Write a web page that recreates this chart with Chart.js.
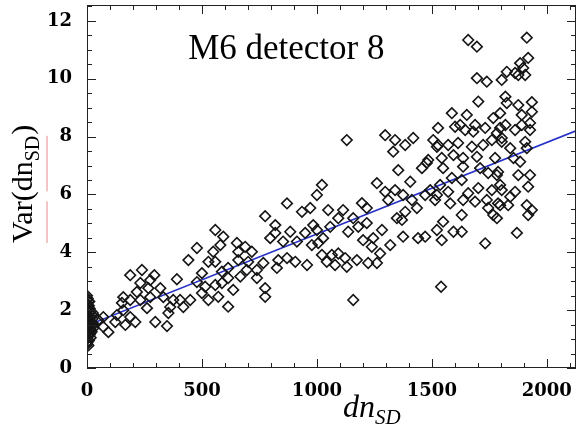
<!DOCTYPE html>
<html lang="en">
<head>
    <meta charset="UTF-8">
    <title>M6 detector 8</title>
    <style>
        body {
            margin: 0;
            background-color: #fff;
        }
        #wrap {
            width: 576px;
            height: 429px;
        }
    </style>
    <script src="https://cdn.jsdelivr.net/npm/chart.js"></script>
</head>
<body>
    <div id="wrap">
        <canvas id="varChart" width="576" height="429"></canvas>
    </div>

    <script>
        const xTicks = [0, 500, 1000, 1500, 2000];
        const yTicks = [0, 2, 4, 6, 8, 10, 12];

        // points piled up at dn ~ 0
        const nearZero = [
            [0, 2.5], [3, 2.4], [6, 2.3], [2, 2.2], [8, 2.15], [12, 2.05], [4, 2.0], [16, 1.95],
            [9, 1.9], [20, 1.85], [1, 1.8], [14, 1.75], [24, 1.7], [5, 1.65], [18, 1.6], [26, 1.55],
            [10, 1.5], [22, 1.45], [3, 1.4], [15, 1.35], [28, 1.38], [7, 1.3], [20, 1.25], [2, 1.2],
            [12, 1.15], [5, 1.1], [16, 1.05], [0, 1.0], [8, 0.95], [3, 0.9], [1, 0.82], [6, 0.78],
            [0, 1.6], [0, 2.0], [4, 1.55], [25, 1.9], [10, 2.3], [0, 2.35], [14, 1.2], [0, 1.3]
        ];

        // dn_SD, Var(dn_SD)
        const samples = [
            [188, 3.21], [239, 3.39], [293, 3.21], [441, 3.73], [391, 3.07], [232, 2.94], [275, 3.04], [267, 2.76],
            [319, 2.76], [217, 2.63], [158, 2.45], [152, 2.25], [188, 2.35], [232, 2.35], [275, 2.45], [332, 2.45],
            [375, 2.35], [405, 2.35], [449, 2.35], [419, 2.11], [362, 2.11], [261, 2.07], [158, 2.0], [188, 1.76],
            [130, 1.83], [354, 1.9], [297, 1.59], [348, 1.45], [210, 1.59], [167, 1.49], [93, 1.24], [71, 1.42],
            [49, 1.66], [71, 1.76], [123, 1.59], [478, 2.97],
            [870, 5.69], [935, 5.4], [971, 5.53], [775, 5.25], [819, 4.94], [984, 4.94], [558, 4.77], [593, 4.54],
            [819, 4.67], [884, 4.71], [949, 4.67], [652, 4.32], [688, 4.19], [797, 4.49], [853, 4.37], [913, 4.37],
            [978, 4.25], [478, 4.15], [580, 4.25], [549, 4.02], [658, 4.02], [717, 4.02], [528, 3.67], [558, 3.67],
            [658, 3.73], [701, 3.67], [767, 3.63], [832, 3.73], [870, 3.8], [906, 3.67], [957, 3.56], [826, 3.46],
            [739, 3.39], [695, 3.39], [614, 3.46], [587, 3.33], [500, 3.28], [614, 3.11], [667, 3.16], [739, 3.11],
            [514, 2.81], [558, 2.87], [587, 2.94], [636, 2.7], [775, 2.76], [775, 2.46], [571, 2.46], [614, 2.12],
            [500, 2.59], [528, 2.35],
            [1130, 7.88], [1297, 8.05], [1340, 7.88], [1384, 7.71], [1419, 7.95], [1332, 7.48], [1506, 7.88], [1522, 7.65],
            [1484, 7.19], [1457, 6.91], [1354, 6.84], [1406, 6.44], [1261, 6.39], [1022, 6.33], [1000, 5.98], [1297, 6.09],
            [1340, 6.15], [1310, 5.81], [1375, 5.98], [1413, 5.81], [1471, 5.98], [1493, 6.15], [1514, 5.81], [1435, 5.53],
            [1384, 5.4], [1348, 5.18], [1370, 5.12], [1196, 5.7], [1217, 5.53], [1049, 5.46], [1114, 5.46], [1093, 5.18],
            [1158, 5.18], [1217, 5.01], [1058, 4.88], [1136, 4.71], [1180, 4.88], [1000, 4.77], [1027, 4.49], [1201, 4.42],
            [1245, 4.49], [1283, 4.77], [1375, 4.54], [1440, 4.49], [1471, 4.54], [1522, 4.77], [1006, 4.32], [1239, 4.19],
            [1319, 4.25], [1275, 3.96], [1022, 3.91], [1065, 3.91], [1093, 3.96], [1123, 3.8], [1174, 3.73], [1043, 3.67],
            [1079, 3.56], [1223, 3.63], [1261, 3.63], [1130, 3.5], [1158, 2.35], [1540, 2.81], [1478, 7.09],
            [1658, 11.34], [1696, 11.11], [1913, 11.42], [1919, 10.72], [1884, 10.54], [1897, 10.37], [1906, 10.13], [1876, 10.13],
            [1826, 10.24], [1862, 10.2], [1696, 10.02], [1739, 9.9], [1804, 9.96], [1702, 9.21], [1820, 9.38], [1826, 9.16],
            [1876, 9.09], [1935, 9.19], [1935, 8.86], [1587, 8.81], [1652, 8.75], [1767, 8.64], [1797, 8.81], [1891, 8.75],
            [1623, 8.4], [1688, 8.4], [1820, 8.4], [1891, 8.4], [1927, 8.47],
            [1527, 8.3], [1601, 8.34], [1645, 8.23], [1680, 8.17], [1732, 8.3], [1783, 8.12], [1527, 7.71], [1571, 7.71],
            [1614, 7.78], [1674, 7.65], [1723, 7.71], [1761, 7.88], [1804, 7.82], [1594, 7.36], [1636, 7.26], [1543, 7.26],
            [1696, 7.3], [1775, 7.26], [1549, 6.91], [1636, 6.96], [1710, 6.91], [1745, 6.74], [1788, 6.78], [1587, 6.57],
            [1536, 6.33], [1630, 6.5], [1702, 6.22], [1761, 6.15], [1797, 6.33], [1522, 5.98], [1571, 6.09], [1658, 6.04],
            [1580, 5.69], [1636, 5.81], [1688, 5.75], [1739, 5.81], [1745, 5.53], [1797, 5.63], [1630, 5.29], [1767, 5.29],
            [1549, 5.06], [1594, 4.71], [1630, 4.71], [1543, 4.42], [1732, 4.31],
            [1797, 8.3], [1862, 8.23], [1927, 8.23], [1804, 7.95], [1906, 7.82], [1913, 7.6], [1841, 7.6], [1855, 7.26],
            [1884, 7.13], [1783, 6.67], [1876, 6.67], [1927, 6.67], [1919, 6.27], [1804, 6.15], [1862, 6.09], [1841, 5.92],
            [1788, 5.69], [1832, 5.63], [1913, 5.63], [1935, 5.46], [1919, 5.29], [1783, 5.18], [1870, 4.67]
        ];

        // linear fit, end points
        const fitX = [0, 2127];
        const fitY = [1.47, 8.2];

        const toXY = arr => arr.map(p => ({ x: p[0], y: p[1] }));

        // IDL style frame: box with inward ticks on all four sides, plus titles
        const framePlugin = {
            id: 'frame',
            afterDatasetsDraw(chart) {
                const { ctx, chartArea: a, scales: { x, y } } = chart;
                ctx.save();
                ctx.strokeStyle = '#222';
                ctx.lineWidth = 1;
                ctx.strokeRect(a.left + 0.5, a.top + 0.5, a.right - a.left - 1, a.bottom - a.top - 1);

                ctx.beginPath();
                for (let v = 0; v <= x.max; v += 100) {
                    const px = Math.round(x.getPixelForValue(v)) + 0.5;
                    const len = v % 500 === 0 ? 9 : 5;
                    ctx.moveTo(px, a.bottom); ctx.lineTo(px, a.bottom - len);
                    ctx.moveTo(px, a.top); ctx.lineTo(px, a.top + len);
                }
                for (let v = 0; v <= y.max; v += 0.5) {
                    const py = Math.round(y.getPixelForValue(v)) + 0.5;
                    const len = v % 2 === 0 ? 9 : 5;
                    ctx.moveTo(a.left, py); ctx.lineTo(a.left + len, py);
                    ctx.moveTo(a.right, py); ctx.lineTo(a.right - len, py);
                }
                ctx.stroke();

                // plot title
                ctx.fillStyle = '#000';
                ctx.font = '35px "Liberation Serif"';
                ctx.textBaseline = 'alphabetic';
                ctx.textAlign = 'left';
                ctx.fillText('M6 detector 8', x.getPixelForValue(440), y.getPixelForValue(10.68));

                // x title: dn_SD
                ctx.font = 'italic 32px "Liberation Serif"';
                let w = ctx.measureText('dn').width;
                ctx.fillText('dn', 343, 417);
                ctx.font = 'italic 21px "Liberation Serif"';
                ctx.fillText('SD', 343 + w, 424);

                // y title: Var(dn_SD)
                ctx.translate(32, 243);
                ctx.rotate(-Math.PI / 2);
                ctx.font = '30px "Liberation Serif"';
                const wVar = ctx.measureText('Var').width;
                w = ctx.measureText('Var(dn').width;
                ctx.fillText('Var(dn', 0, 0);
                ctx.font = '20px "Liberation Serif"';
                const wSub = ctx.measureText('SD').width;
                ctx.fillText('SD', w, 7);
                ctx.font = '30px "Liberation Serif"';
                ctx.fillText(')', w + wSub + 1, 0);
                const wOpen = ctx.measureText('Var(').width;
                ctx.strokeStyle = 'rgba(220, 90, 90, 0.7)';
                ctx.beginPath();
                ctx.moveTo(0, 15); ctx.lineTo(wVar, 15);
                ctx.moveTo(wOpen, 15); ctx.lineTo(w + wSub, 15);
                ctx.stroke();
                ctx.restore();
            }
        };

        const tickFont = { family: '"DejaVu Serif"', size: 18, weight: 'bold' };

        new Chart(document.getElementById('varChart'), {
            type: 'scatter',
            data: {
                datasets: [
                    {
                        label: 'Var',
                        data: toXY(nearZero.concat(samples)),
                        pointStyle: 'rectRot',
                        pointRadius: 5.3,
                        borderWidth: 1.6,
                        borderColor: '#151515',
                        backgroundColor: 'rgba(0,0,0,0)',
                        clip: 0
                    },
                    {
                        type: 'line',
                        label: 'fit',
                        data: fitX.map((v, i) => ({ x: v, y: fitY[i] })),
                        borderColor: '#2430c8',
                        borderWidth: 1.5,
                        pointRadius: 0,
                        fill: false,
                        clip: 0
                    }
                ]
            },
            options: {
                responsive: false,
                animation: false,
                layout: { autoPadding: false, padding: { top: 5, right: 0, bottom: 0, left: 0 } },
                plugins: {
                    legend: { display: false },
                    tooltip: { enabled: false }
                },
                scales: {
                    x: {
                        type: 'linear',
                        min: 0,
                        max: 2127,
                        grid: { display: false },
                        border: { display: false },
                        afterBuildTicks: s => { s.ticks = xTicks.map(v => ({ value: v })); },
                        afterFit: s => { s.height = 61; s.paddingLeft = 0; s.paddingRight = 0; },
                        ticks: { color: '#000', font: tickFont, padding: 5, maxRotation: 0, callback: v => String(v) }
                    },
                    y: {
                        type: 'linear',
                        min: 0,
                        max: 12.55,
                        grid: { display: false },
                        border: { display: false },
                        afterBuildTicks: s => { s.ticks = yTicks.map(v => ({ value: v })); },
                        afterFit: s => { s.width = 87; s.paddingTop = 0; s.paddingBottom = 0; },
                        ticks: { color: '#000', font: tickFont, padding: 7, callback: v => String(v) }
                    }
                }
            },
            plugins: [framePlugin]
        });
    </script>
</body>
</html>
